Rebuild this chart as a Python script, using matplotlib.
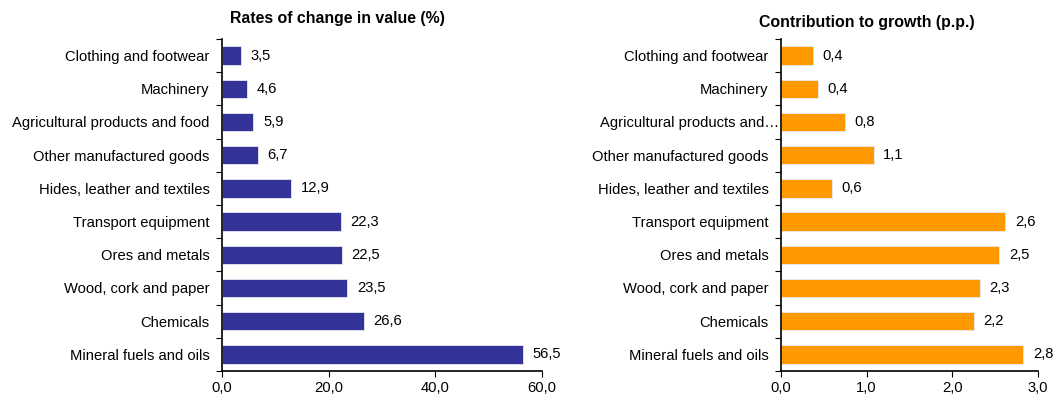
import matplotlib
matplotlib.use("Agg")
import matplotlib.pyplot as plt
import matplotlib.transforms as mtransforms
import numpy as np

plt.rcParams['font.family'] = ['Liberation Sans', 'DejaVu Sans']

# top to bottom as in the chart
categories = ["Clothing and footwear", "Machinery", "Agricultural products and food",
              "Other manufactured goods", "Hides, leather and textiles",
              "Transport equipment", "Ores and metals", "Wood, cork and paper",
              "Chemicals", "Mineral fuels and oils"]
categories_right = list(categories)
categories_right[2] = "Agricultural products and\u2026"

rates = [3.5, 4.6, 5.9, 6.7, 12.9, 22.3, 22.5, 23.5, 26.6, 56.5]
contrib = [0.37, 0.43, 0.75, 1.08, 0.59, 2.62, 2.55, 2.32, 2.25, 2.83]
contrib_labels = ["0,4", "0,4", "0,8", "1,1", "0,6", "2,6", "2,5", "2,3", "2,2", "2,8"]
rate_labels = [f"{v:.1f}".replace(".", ",") for v in rates]

FS = 10.6

fig = plt.figure(figsize=(10.59, 4.0), dpi=100)
ax1 = fig.add_axes([222 / 1059, 1 - 371 / 400, 320 / 1059, 332 / 400])
ax2 = fig.add_axes([781 / 1059, 1 - 371 / 400, 257 / 1059, 332 / 400])


def draw(ax, cats, vals, labels, color, xmax, step, off):
    n = len(cats)
    y = np.arange(n)
    ax.barh(y, vals, height=0.55, color=color, edgecolor='#e8e8f0', linewidth=0.6)
    ax.set_ylim(n - 0.5, -0.5)
    ax.set_xlim(0, xmax)
    ax.set_yticks(np.arange(n + 1) - 0.5)
    ax.set_yticklabels([])
    ax.set_yticks(y, minor=True)
    ax.set_yticklabels(cats, minor=True, fontsize=FS)
    ax.tick_params(axis='y', which='minor', length=0, pad=9)
    ax.tick_params(axis='y', which='major', length=4, direction='out')
    ticks = np.arange(0, xmax + step / 2, step)
    ax.set_xticks(ticks)
    ax.set_xticklabels([f"{t:.1f}".replace(".", ",") for t in ticks], fontsize=FS)
    ax.tick_params(axis='x', length=4, direction='out', pad=3)
    for s in ['top', 'right']:
        ax.spines[s].set_visible(False)
    for s in ['left', 'bottom']:
        ax.spines[s].set_linewidth(1.2)
    for yi, v, lab in zip(y, vals, labels):
        ax.text(v + off, yi, lab, va='center', ha='left', fontsize=FS)


draw(ax1, categories, rates, rate_labels, '#333399', 60, 20, 1.8)
draw(ax2, categories_right, contrib, contrib_labels, '#ff9900', 3.0, 1.0, 0.11)

# the cut-off label sits right against the axis in the original
lab = ax2.get_yticklabels(minor=True)[2]
lab.set_transform(lab.get_transform() +
                  mtransforms.ScaledTranslation(11 / 100, 0, fig.dpi_scale_trans))

fig.text(337 / 1059, 1 - 18 / 400, "Rates of change in value (%)", ha='center',
         va='center', fontsize=11.4, fontweight='bold')
fig.text(867 / 1059, 1 - 22 / 400, "Contribution to growth (p.p.)", ha='center',
         va='center', fontsize=11.4, fontweight='bold')

fig.savefig("out.png", dpi=100)
